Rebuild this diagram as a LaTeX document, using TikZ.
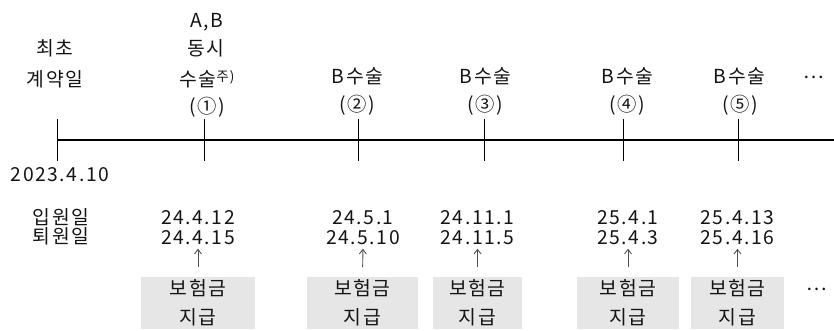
\documentclass[tikz,border=0pt]{standalone}
\usepackage{fontspec}
\setmainfont{Noto Sans CJK KR}[LetterSpace=8]
\usetikzlibrary{arrows.meta}
\definecolor{ink}{HTML}{141414}
\definecolor{boxfill}{HTML}{E6E6E6}
\begin{document}
\begin{tikzpicture}[x=1pt,y=-1pt,
  every node/.style={inner sep=0pt,outer sep=0pt,text=ink,font=\fontsize{19.3}{19.5}\selectfont},
  lbl/.style={anchor=base},
  pay/.style={fill=boxfill,minimum height=52pt,align=center,font=\fontsize{19.3}{29}\selectfont},
  axis/.style={line width=1.6pt,draw=black},
  tick/.style={line width=1pt,draw=black},
  uparrow/.style={draw=ink!75,line width=0.9pt,-{Straight Barb[length=4.5pt,width=7pt]},shorten <=10pt,shorten >=4pt}]
\useasboundingbox (0,0) rectangle (834,331);
% timeline
\coordinate (L) at (57,140);
\coordinate (R) at (834,140);
\draw[axis] (L) -- (R);
\coordinate (L0t) at (57,119); \coordinate (L0b) at (57,161);
\draw[tick] (L0t) -- (L0b);
\foreach \i/\x in {1/204,2/358,3/484,4/623,5/738}{
  \coordinate (t\i t) at (\x,119);
  \coordinate (t\i b) at (\x,161);
  \draw[tick] (t\i t) -- (t\i b);
}
% left labels
\node[lbl] (c1) at (55,56) {최초};
\node[lbl] (c2) at (55,87) {계약일};
\node[lbl] (d0) at (60,181) {2023.4.10};
\node[lbl] (in) at (61,224) {입원일};
\node[lbl] (out) at (61,243.5) {퇴원일};
% upper labels
\node[lbl] (u1a) at (207,28) {A,B};
\node[lbl] (u1b) at (206,56) {동시};
\node[lbl] (u1c) at (207,87) {수술\raisebox{5.5pt}{\fontsize{13.5}{13.5}\selectfont 주)}};
\node[lbl] (u1d) at (207.5,114) {(①)};
\node[lbl] (u2a) at (357.5,84) {B수술};
\node[lbl] (u2b) at (357.5,112) {(②)};
\node[lbl] (u3a) at (485.5,84) {B수술};
\node[lbl] (u3b) at (485.5,112) {(③)};
\node[lbl] (u4a) at (627.5,84) {B수술};
\node[lbl] (u4b) at (627.5,112) {(④)};
\node[lbl] (u5a) at (739.5,84) {B수술};
\node[lbl] (u5b) at (740,112) {(⑤)};
\node[lbl] (ua) at (814,79) {…};
% dates
\node[lbl] (a1) at (198,224.5) {24.4.12};
\node[lbl] (b1) at (198,244.5) {24.4.15};
\node[lbl] (a2) at (363,224.5) {24.5.1};
\node[lbl] (b2) at (363,244.5) {24.5.10};
\node[lbl] (a3) at (477.5,224.5) {24.11.1};
\node[lbl] (b3) at (477.5,244.5) {24.11.5};
\node[lbl] (a4) at (628,224.5) {25.4.1};
\node[lbl] (b4) at (628,244.5) {25.4.3};
\node[lbl] (a5) at (737.5,224.5) {25.4.13};
\node[lbl] (b5) at (737.5,244.5) {25.4.16};
% payment boxes
\node[pay,minimum width=114pt] (p1) at (198,303) {보험금\\지급};
\node[pay,minimum width=111pt] (p2) at (362.5,303) {보험금\\지급};
\node[pay,minimum width=89pt] (p3) at (477.5,303) {보험금\\지급};
\node[pay,minimum width=102pt] (p4) at (628,303) {보험금\\지급};
\node[pay,minimum width=93pt] (p5) at (737.5,303) {보험금\\지급};
\node[lbl] (pa) at (817,290) {…};
\foreach \i in {1,...,5}{
  \draw[uparrow] (p\i.north) -- (b\i.south);
}
\end{tikzpicture}
\end{document}
